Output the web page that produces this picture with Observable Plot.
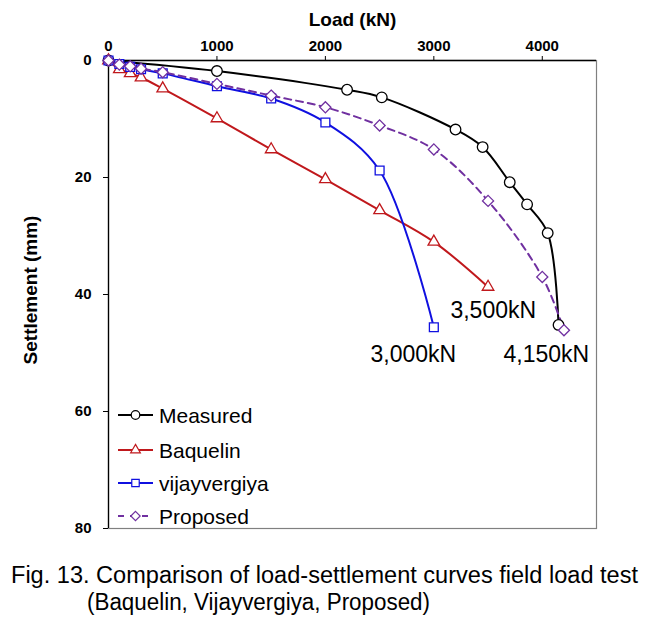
<!DOCTYPE html>
<html>
<head>
<meta charset="utf-8">
<script src="https://cdn.jsdelivr.net/npm/d3@7"></script>
<script src="https://cdn.jsdelivr.net/npm/@observablehq/plot@0.6"></script>
<style>
  html, body { margin: 0; padding: 0; background: #fff; }
  #chart svg { display: block; }
</style>
</head>
<body>
<div id="chart"></div>
<svg id="caption" width="656" height="79" style="display:block"></svg>
<script>
// ---- data ----
const measuredLoad   = [0, 1000, 2200, 2520, 3200, 3450, 3700, 3860, 4050, 4150];
const measuredSettle = [0, 1.8, 5.0, 6.3, 11.8, 14.8, 20.8, 24.6, 29.5, 45.2];

const baquelinLoad   = [0, 100, 200, 300, 500, 1000, 1500, 2000, 2500, 3000, 3500];
const baquelinSettle = [0, 1.5, 2.2, 2.9, 4.8, 9.9, 15.2, 20.3, 25.6, 31.0, 38.7];

const vijayLoad   = [0, 100, 200, 300, 500, 1000, 1500, 2000, 2500, 3000];
const vijaySettle = [0, 0.6, 1.1, 1.5, 2.2, 4.4, 6.5, 10.6, 18.8, 45.6];

const proposedLoad   = [0, 100, 200, 300, 500, 1000, 1500, 2000, 2500, 3000, 3500, 4000, 4200];
const proposedSettle = [0, 0.7, 1.0, 1.4, 2.0, 4.0, 6.0, 8.0, 11.1, 15.2, 24.0, 37.0, 46.1];

const seriesNames = ["Measured", "Baquelin", "vijayvergiya", "Proposed"];
const xTicks = [0, 1000, 2000, 3000, 4000];
const yTicks = [0, 20, 40, 60, 80];

const annoText   = ["3,500kN", "3,000kN", "4,150kN"];
const annoLoad   = [3548, 2811, 4037];
const annoSettle = [42.7, 50.3, 50.3];

const captionLines = ["Fig. 13. Comparison of load-settlement curves field load test",
                      "(Baquelin, Vijayvergiya, Proposed)"];

// ---- build ----
const FONT = "'Liberation Sans', Arial, sans-serif";
const toRows = (xs, ys) => xs.map((x, i) => ({load: x, settle: ys[i]}));
const series = [
  {name: seriesNames[0], rows: toRows(measuredLoad, measuredSettle), color: "#000000", symbol: "circle", r: 5.3, dash: null},
  {name: seriesNames[1], rows: toRows(baquelinLoad, baquelinSettle), color: "#c0181c", symbol: "triangle", r: 4.3, dash: null},
  {name: seriesNames[2], rows: toRows(vijayLoad, vijaySettle), color: "#1010e0", symbol: "square", r: 5.0, dash: null},
  {name: seriesNames[3], rows: toRows(proposedLoad, proposedSettle), color: "#7030a0", symbol: "diamond2", r: 5.0, dash: "7,5"}
];
const annos = annoText.map((t, i) => ({t, load: annoLoad[i], settle: annoSettle[i]}));

const marks = [
  Plot.frame({stroke: "#808080", strokeWidth: 1.2}),
  Plot.ruleX([0], {stroke: "#000", strokeWidth: 1.3}),
  Plot.ruleY([0], {stroke: "#000", strokeWidth: 1.3}),
  Plot.axisX({anchor: "top", ticks: xTicks, tickFormat: d => String(d), tickSize: 5, tickPadding: 5,
    label: "Load (kN)", labelArrow: "none", labelAnchor: "center", labelOffset: 48, fontSize: 15, fontWeight: "bold"}),
  Plot.axisY({anchor: "left", ticks: yTicks, tickFormat: d => String(d), tickSize: 5, tickPadding: 12,
    label: null, fontSize: 15, fontWeight: "bold"})
];
for (const s of series) {
  marks.push(Plot.line(s.rows, {x: "load", y: "settle", stroke: s.color, strokeWidth: 2,
    strokeDasharray: s.dash, curve: "catmull-rom"}));
}
for (const s of series) {
  marks.push(Plot.dot(s.rows, {x: "load", y: "settle", symbol: () => s.symbol, r: s.r,
    stroke: s.color, strokeWidth: 1.3, fill: "white"}));
}
marks.push(Plot.text(annos, {x: "load", y: "settle", text: "t", fontSize: 23, fill: "#000", textAnchor: "middle"}));

const plot = Plot.plot({
  width: 656,
  height: 540,
  marginLeft: 108,
  marginRight: 60,
  marginTop: 60,
  marginBottom: 12,
  style: {fontFamily: FONT, background: "#fff", color: "#000"},
  x: {domain: [0, 4500]},
  y: {domain: [0, 80], reverse: true},
  marks
});
document.getElementById("chart").appendChild(plot);

const svg = d3.select(plot);
// enlarge x-axis title
svg.selectAll("text").filter(function() { return this.textContent === "Load (kN)"; })
  .attr("font-size", 19);

// y axis title
svg.append("text")
  .attr("transform", "translate(37,290) rotate(-90)")
  .attr("text-anchor", "middle")
  .attr("font-size", 19).attr("font-weight", "bold")
  .attr("font-family", FONT)
  .text("Settlement (mm)");

// legend
const lg = svg.append("g").attr("font-family", FONT).attr("text-anchor", "start");
const rowsY = [415, 450, 483, 516];
const symMap = {circle: d3.symbolCircle, triangle: d3.symbolTriangle, square: d3.symbolSquare, diamond2: d3.symbolDiamond2};
const symR = {circle: 4.3, triangle: 3.6, square: 4.2, diamond2: 4.2};
series.forEach((s, i) => {
  const y = rowsY[i];
  lg.append("line").attr("x1", 118).attr("x2", 153).attr("y1", y).attr("y2", y)
    .attr("stroke", s.color).attr("stroke-width", 2).attr("stroke-dasharray", s.dash ? "6,6" : null);
  lg.append("path").attr("d", d3.symbol(symMap[s.symbol], Math.PI * symR[s.symbol] ** 2)())
    .attr("transform", `translate(135.5,${y})`)
    .attr("fill", "white").attr("stroke", s.color).attr("stroke-width", 1.2);
  lg.append("text").attr("x", 159).attr("y", y).attr("dy", "0.36em")
    .attr("font-size", 21).text(s.name);
});

// caption
const cap = d3.select("#caption");
cap.append("text").attr("x", 11).attr("y", 43).attr("font-size", 23)
  .attr("font-family", FONT)
  .attr("textLength", 627).attr("lengthAdjust", "spacingAndGlyphs").text(captionLines[0]);
cap.append("text").attr("x", 87).attr("y", 70).attr("font-size", 23)
  .attr("font-family", FONT)
  .attr("textLength", 343).attr("lengthAdjust", "spacingAndGlyphs").text(captionLines[1]);
</script>
</body>
</html>
